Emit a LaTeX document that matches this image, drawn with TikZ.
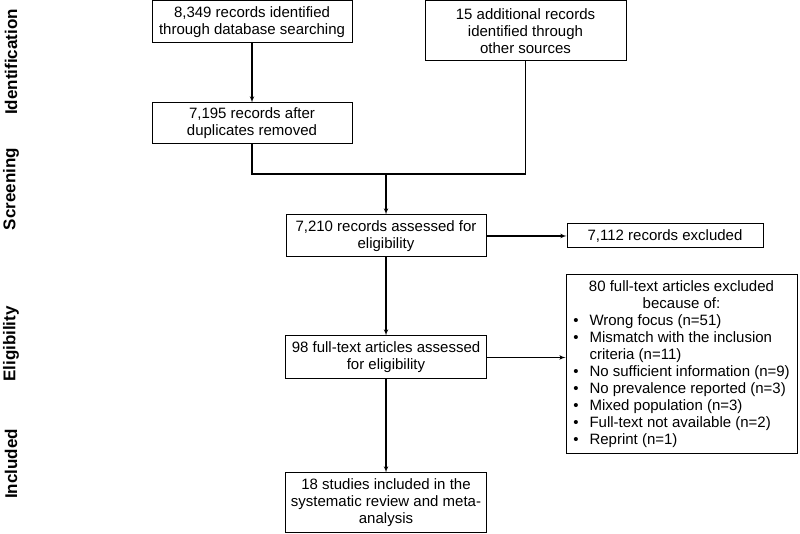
\documentclass[tikz,border=0pt]{standalone}
\usepackage{fontspec}
\setmainfont{Liberation Sans}
\usepackage{xcolor}
\usepackage{tikz}
\usetikzlibrary{shapes.geometric, arrows, positioning, calc}

\begin{document}
\begin{tikzpicture}[x=1pt, y=1pt,
    font=\fontsize{15pt}{17pt}\selectfont,
    box/.style={rectangle, draw, line width=1pt, text centered, align=center, inner sep=2pt, minimum width=200pt, minimum height=42pt},
    phase/.style={rotate=90, font=\fontsize{17pt}{20pt}\selectfont\bfseries},
    line/.style={draw, -latex', line width=1.1pt}]
    \useasboundingbox (0,0) rectangle (800,534);

    % Identification
    \node [box] (recdb) at (252,512) {8,349 records identified\\through database searching};
    \node [box, minimum width=201pt, minimum height=60pt] (othersrc) at (525.5,503) {15 additional records\\identified through\\other sources};
    \node [box, minimum height=41pt, below=59pt of recdb] (dedup) {7,195 records after\\duplicates removed};

    % Screening
    \node [box] (assessed) at (386,298) {7,210 records assessed for\\eligibility};
    \node [box, minimum width=196pt, minimum height=24pt, right=80pt of assessed] (excluded) {7,112 records excluded};

    % Eligibility
    \node [box, minimum width=201pt, minimum height=43pt, below=78pt of assessed] (fulltext) {98 full-text articles assessed\\for eligibility};
    \node [box, minimum width=231pt, minimum height=179pt] (reasons) at (681.5,169.5) {%
      \begin{tabular}{@{}l@{\hspace{11pt}}l@{}}
      \multicolumn{2}{c}{80 full-text articles excluded}\\
      \multicolumn{2}{c}{because of:}\\
      \textbullet & Wrong focus (n=51)\\
      \textbullet & Mismatch with the inclusion\\
                  & criteria (n=11)\\
      \textbullet & No sufficient information (n=9)\\
      \textbullet & No prevalence reported (n=3)\\
      \textbullet & Mixed population (n=3)\\
      \textbullet & Full-text not available (n=2)\\
      \textbullet & Reprint (n=1)
      \end{tabular}};

    % Included
    \node [box, minimum width=201pt, minimum height=60pt, below=93pt of fulltext] (included) {18 studies included in the\\systematic review and meta-\\analysis};

    % Phase labels
    \node [phase] (lblid) at (11,472) {Identification};
    \node [phase] (lblscr) at (11,345) {Screening};
    \node [phase] (lblelig) at (11,190) {Eligibility};
    \node [phase] (lblinc) at (11,70) {Included};

    % Connections
    \coordinate (merge) at (assessed.north |- 0,360);
    \path [line] (recdb) -- (dedup);
    \draw [line width=1.1pt] (dedup.south) |- (merge) -| (othersrc.south);
    \path [line] (merge) -- (assessed);
    \path [line] (assessed) -- (excluded);
    \path [line] (assessed) -- (fulltext);
    \path [line] (fulltext.east) -- (fulltext.east -| reasons.west);
    \path [line] (fulltext) -- (included);

\end{tikzpicture}
\end{document}
